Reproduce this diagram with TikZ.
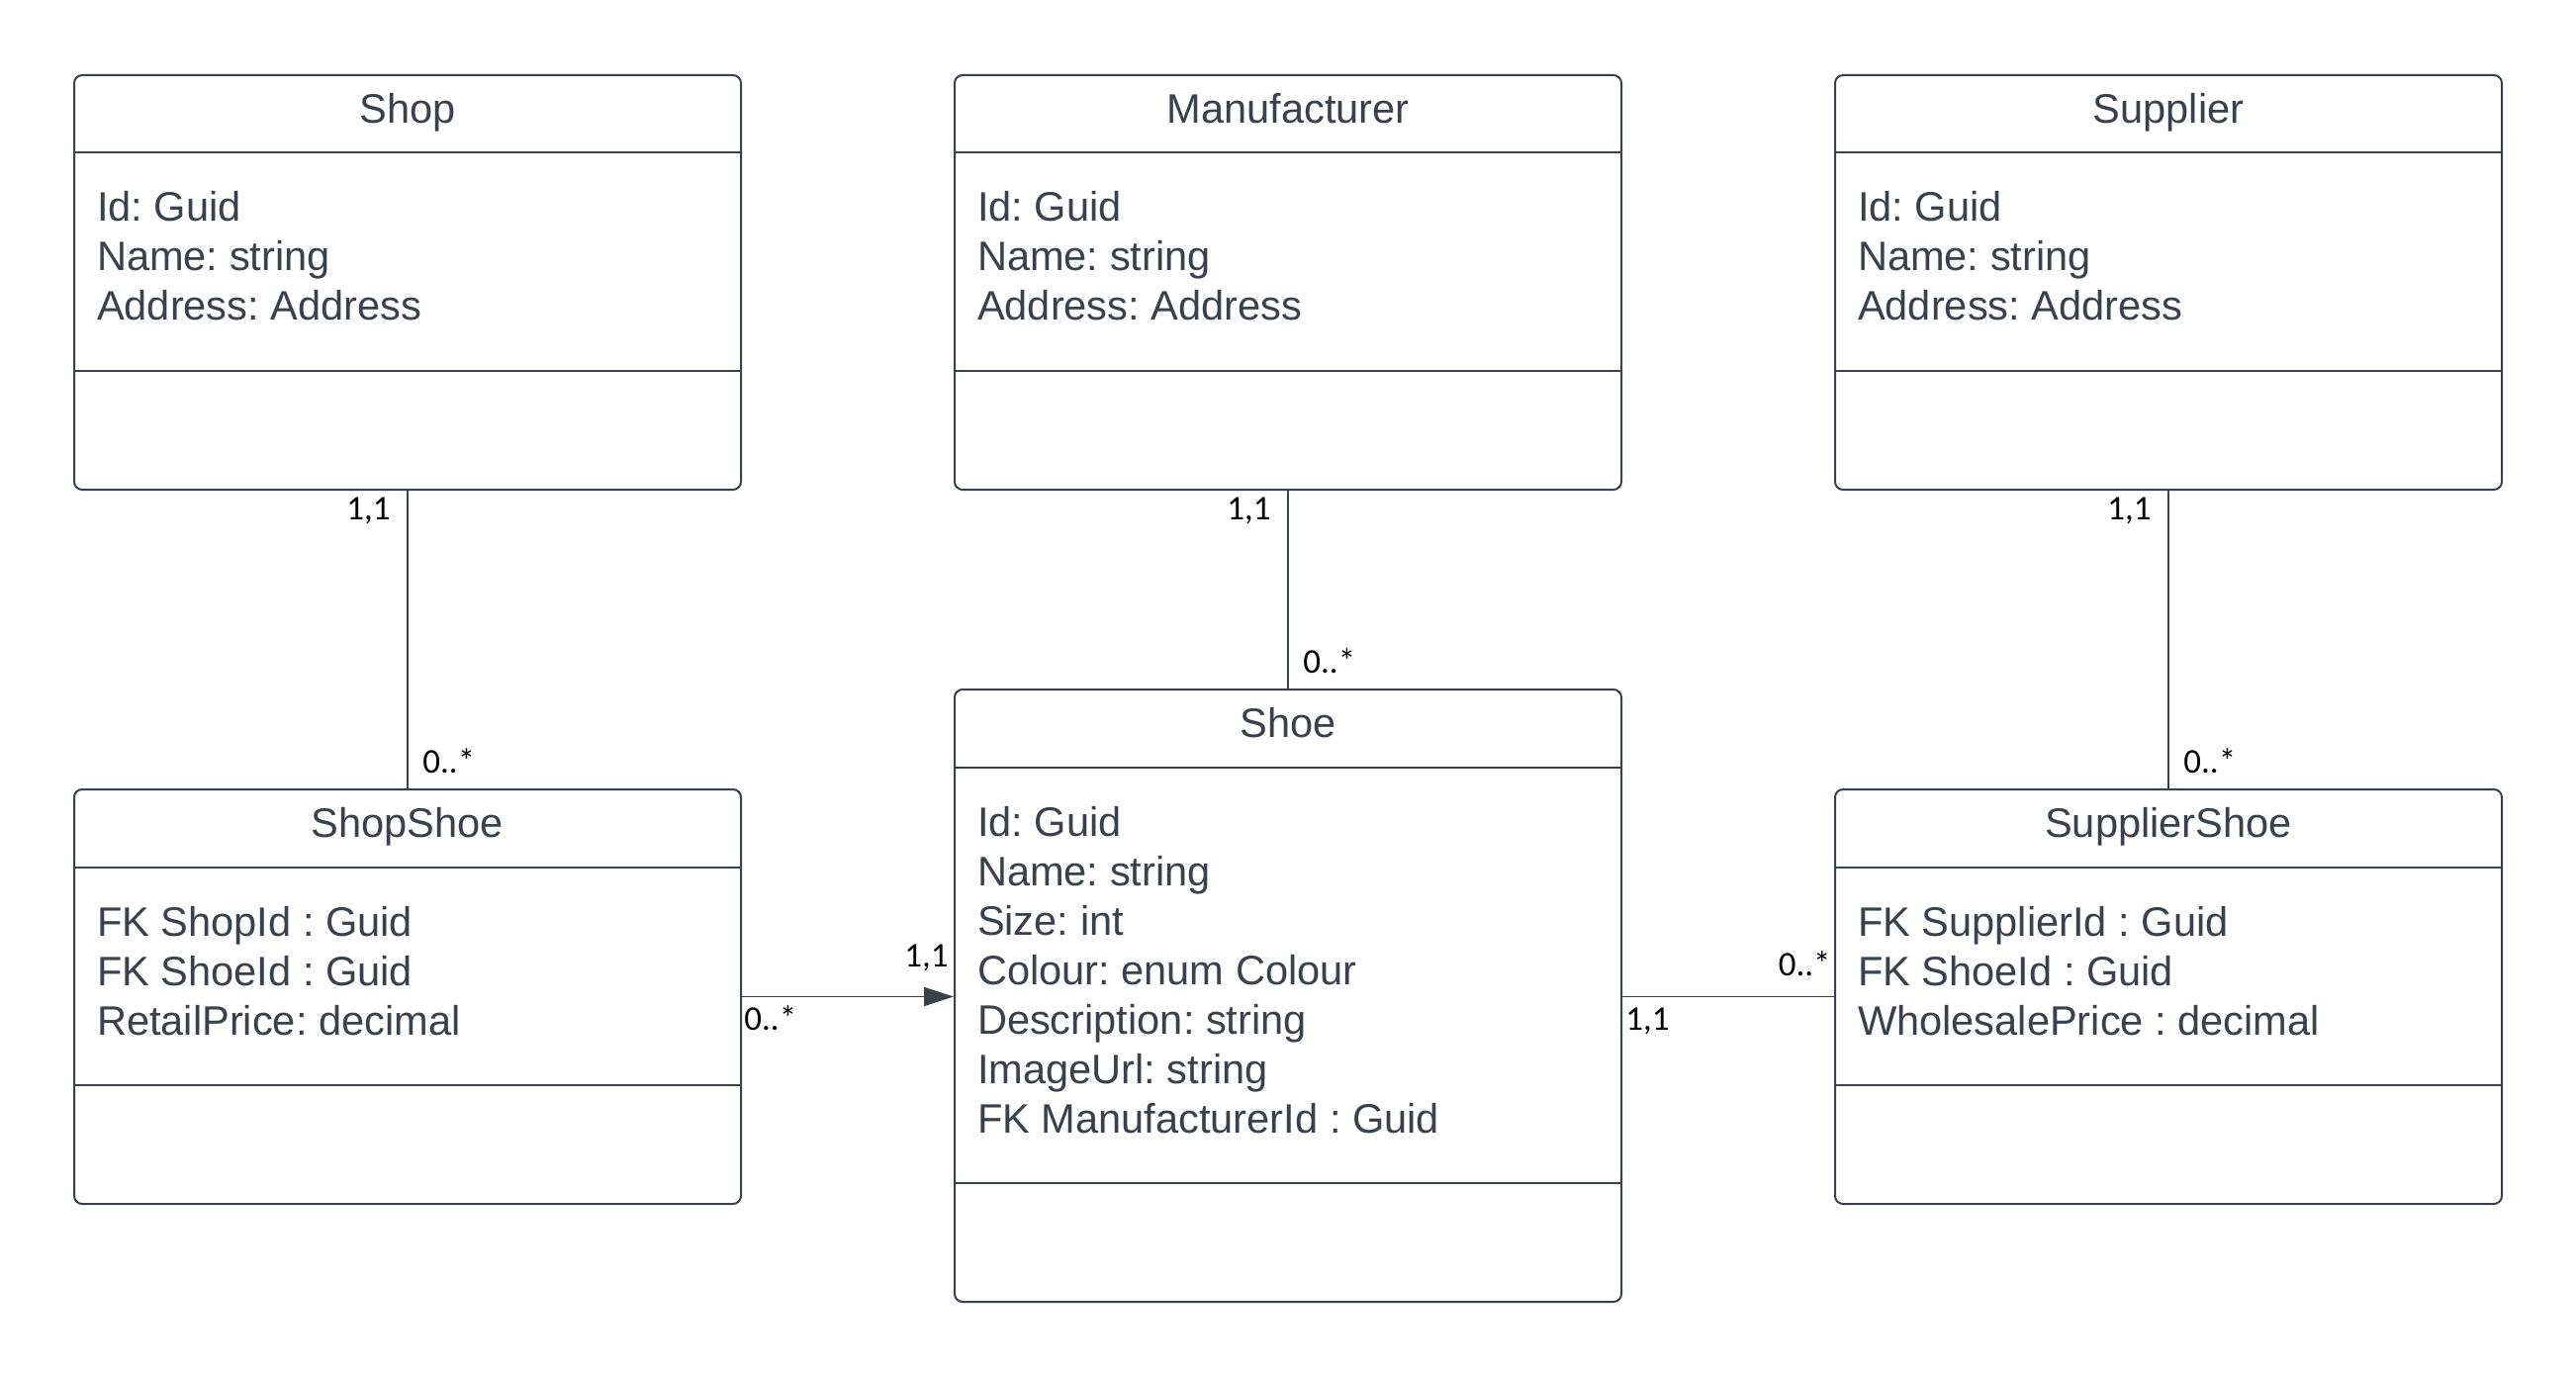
\documentclass[tikz,border=0pt]{standalone}
\usepackage{fontspec}
\setmainfont{Liberation Sans}
\newfontfamily\multfont{Carlito}
\usetikzlibrary{arrows.meta,calc}
\definecolor{lc}{HTML}{3A414A}
\frenchspacing
\begin{document}
\begin{tikzpicture}[x=0.5pt,y=-0.5pt,
  cls/.style={draw=lc, line width=1pt, rounded corners=4pt, rectangle, inner sep=0pt,
              minimum width=337pt, anchor=north west},
  small/.style={cls, minimum height=209.5pt},
  big/.style={cls, minimum height=309.5pt},
  sepline/.style={draw=lc, line width=1pt},
  ttl/.style={text=lc, font=\frenchspacing\fontsize{20.8}{25}\selectfont, anchor=base, inner sep=0pt},
  attr/.style={text=lc, font=\frenchspacing\fontsize{20.8}{25}\selectfont, anchor=base west, inner sep=0pt},
  mult/.style={text=black, font=\multfont\fontsize{17.5}{20}\selectfont, inner sep=0pt},
  conn/.style={draw=lc, line width=0.9pt}
]
\fill[white] (0,0) rectangle (2604,1391);
\useasboundingbox (0,0) rectangle (2604,1391);

% boxes
\node[small] (shop) at (74,75) {};
\node[small] (manu) at (964,75) {};
\node[small] (supp) at (1854,75) {};
\node[small] (shopshoe) at (74,797) {};
\node[big] (shoe) at (964,696) {};
\node[small] (suppshoe) at (1854,797) {};

% separators
\foreach \b in {shop,manu,supp,shopshoe,suppshoe}{
  \draw[sepline] ([yshift=-39.75pt]\b.north west) -- ([yshift=-39.75pt]\b.north east);
  \draw[sepline] ([yshift=-150pt]\b.north west) -- ([yshift=-150pt]\b.north east);
}
\draw[sepline] ([yshift=-39.75pt]shoe.north west) -- ([yshift=-39.75pt]shoe.north east);
\draw[sepline] ([yshift=-250pt]shoe.north west) -- ([yshift=-250pt]shoe.north east);

% titles
\node[ttl] (shop-t) at ([yshift=-24.8pt]shop.north) {Shop};
\node[ttl] (manu-t) at ([yshift=-24.8pt]manu.north) {Manufacturer};
\node[ttl] (supp-t) at ([yshift=-24.8pt]supp.north) {Supplier};
\node[ttl] (shopshoe-t) at ([yshift=-24.8pt]shopshoe.north) {ShopShoe};
\node[ttl] (shoe-t) at ([yshift=-24.8pt]shoe.north) {Shoe};
\node[ttl] (suppshoe-t) at ([yshift=-24.8pt]suppshoe.north) {SupplierShoe};

% attributes
\foreach \t [count=\i] in {Id: Guid, Name: string, Address: Address}{
  \node[attr] (shop-a\i) at ([xshift=11.8pt,yshift={-74.5pt-25pt*(\i-1)}]shop.north west) {\t};
  \node[attr] (manu-a\i) at ([xshift=11.8pt,yshift={-74.5pt-25pt*(\i-1)}]manu.north west) {\t};
  \node[attr] (supp-a\i) at ([xshift=11.8pt,yshift={-74.5pt-25pt*(\i-1)}]supp.north west) {\t};
}
\foreach \t [count=\i] in {FK ShopId : Guid, FK ShoeId : Guid, RetailPrice: decimal}{
  \node[attr] (shopshoe-a\i) at ([xshift=11.8pt,yshift={-74.5pt-25pt*(\i-1)}]shopshoe.north west) {\t};
}
\foreach \t [count=\i] in {FK SupplierId : Guid, FK ShoeId : Guid, WholesalePrice : decimal}{
  \node[attr] (suppshoe-a\i) at ([xshift=11.8pt,yshift={-74.5pt-25pt*(\i-1)}]suppshoe.north west) {\t};
}
\foreach \t [count=\i] in {Id: Guid, Name: string, Size: int, Colour: enum Colour, Description: string, ImageUrl: string, FK ManufacturerId : Guid}{
  \node[attr] (shoe-a\i) at ([xshift=11.8pt,yshift={-74.5pt-25pt*(\i-1)}]shoe.north west) {\t};
}

% connectors
\draw[conn] (shop.south) -- (shopshoe.north);
\draw[conn] (manu.south) -- (shoe.north);
\draw[conn] (supp.south) -- (suppshoe.north);
\draw[conn,-{Triangle[length=15pt,width=9.5pt]}] (shopshoe.east) -- (shopshoe.east -| shoe.west);
\draw[conn] (suppshoe.west -| shoe.east) -- (suppshoe.west);

% multiplicities
\node[mult,anchor=base east] (m1) at ([xshift=-8.5pt,yshift=-14.8pt]shop.south) {1,1};
\node[mult,anchor=base west] (m2) at ([xshift=7.5pt,yshift=7.8pt]shopshoe.north) {0..*};
\node[mult,anchor=base east] (m3) at ([xshift=-8.5pt,yshift=-14.8pt]manu.south) {1,1};
\node[mult,anchor=base west] (m4) at ([xshift=7.5pt,yshift=8pt]shoe.north) {0..*};
\node[mult,anchor=base east] (m5) at ([xshift=-8.5pt,yshift=-14.8pt]supp.south) {1,1};
\node[mult,anchor=base west] (m6) at ([xshift=7.5pt,yshift=7.8pt]suppshoe.north) {0..*};
\node[mult,anchor=base west] (m7) at ([xshift=1pt,yshift=-17pt]shopshoe.east) {0..*};
\node[mult,anchor=base east] (m8) at ([xshift=-2.5pt,yshift=15pt]shopshoe.east -| shoe.west) {1,1};
\node[mult,anchor=base west] (m9) at ([xshift=1.5pt,yshift=-17pt]suppshoe.west -| shoe.east) {1,1};
\node[mult,anchor=base east] (m10) at ([xshift=-1.5pt,yshift=10.5pt]suppshoe.west) {0..*};
\end{tikzpicture}
\end{document}
